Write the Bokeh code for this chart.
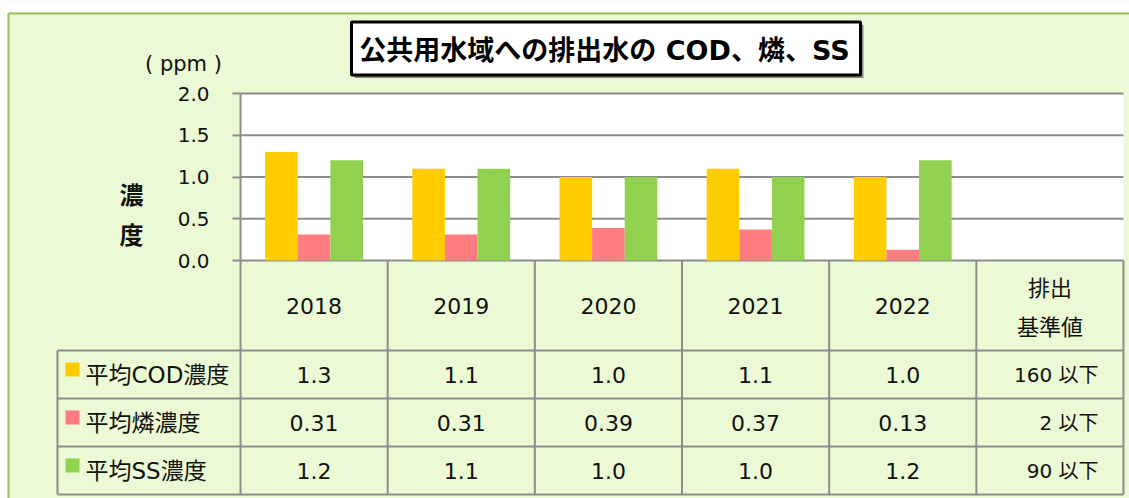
import numpy as np
from bokeh.plotting import figure
from bokeh.models import Range1d, FixedTicker, NumeralTickFormatter
from bokeh.core.properties import value
from bokeh.embed import file_html
from bokeh.resources import INLINE

# ---------------- data ----------------
years = ["2018", "2019", "2020", "2021", "2022"]
standard_header = ["排出", "基準値"]
series_labels = ["平均COD濃度", "平均燐濃度", "平均SS濃度"]
cod = [1.3, 1.1, 1.0, 1.1, 1.0]
phosphorus = [0.31, 0.31, 0.39, 0.37, 0.13]
ss = [1.2, 1.1, 1.0, 1.0, 1.2]
standards = ["160 以下", "2 以下", "90 以下"]
y_ticks = [0.0, 0.5, 1.0, 1.5, 2.0]
title_text = "公共用水域への排出水の COD、燐、SS"
unit_text = "( ppm )"
axis_title = ["濃", "度"]

series = [cod, phosphorus, ss]
decimals = [1, 2, 1]
colors = ["#FFCC00", "#FF7C80", "#92D050"]

# ---------------- layout constants ----------------
W, H = 1129, 498
X0, COLW = 240, (1123 - 240) / 6   # plot-area left and column width (px)
Y0, PPU = 260, (260 - 93) / 2      # zero line (px) and px per unit
BG = "#EBFAD4"
GRID = "#8C8C8C"
TXT = "#111111"
LATIN = value("DejaVu Sans, Noto Sans CJK JP")
CJK = value("Noto Sans CJK JP")

p = figure(width=W, height=H, output_backend="svg", toolbar_location=None, title=None,
           x_range=Range1d(-X0 / COLW, (W - X0) / COLW),
           y_range=Range1d((Y0 - H) / PPU, Y0 / PPU),
           x_axis_type=None,
           min_border_left=0, min_border_right=0, min_border_top=0, min_border_bottom=0,
           background_fill_color=BG, border_fill_color=BG, outline_line_color=None)
p.extra_x_ranges = {"px": Range1d(0, W)}
p.extra_y_ranges = {"px": Range1d(H, 0)}
p.grid.visible = False

# y axis pinned at the plot-area left edge
ax = p.yaxis[0]
ax.fixed_location = 0
ax.bounds = (min(y_ticks), max(y_ticks))
ax.ticker = FixedTicker(ticks=y_ticks)
ax.formatter = NumeralTickFormatter(format="0.0")
ax.axis_line_color = GRID
ax.axis_line_width = 2
ax.major_tick_line_color = GRID
ax.major_tick_line_width = 2
ax.major_tick_in = 0
ax.major_tick_out = 8
ax.minor_tick_line_color = None
ax.major_label_text_font_size = "20px"
ax.major_label_text_font = "DejaVu Sans"
ax.major_label_text_color = TXT
ax.major_label_standoff = 23

# outer white margins and green border
p.quad(left=[0, 0], right=[7, W], top=[0, 0], bottom=[H, 12], fill_color="white", line_color=None,
       x_range_name="px", y_range_name="px")
p.segment(x0=[8, 8], x1=[8, W], y0=[13, 13], y1=[H, 13], line_color="#9BBB59", line_width=2,
          x_range_name="px", y_range_name="px")

n = len(years)
xs = np.arange(n) + 0.5
ncol = n + 1

# plot area
p.quad(left=0, right=ncol, bottom=0, top=max(y_ticks), fill_color="white", line_color=None)
p.segment(x0=[0] * len(y_ticks), x1=[ncol] * len(y_ticks), y0=y_ticks, y1=y_ticks,
          line_color=GRID, line_width=2)

# bars
BW = 0.2216
for k, (vals, c) in enumerate(zip(series, colors)):
    p.vbar(x=xs + (k - 1) * BW, top=vals, bottom=0, width=BW, fill_color=c, line_color=None)

# ---------------- table ----------------
TL = 57
row_edges = [350, 398, 446, 494]
row_centers = [(a + b) / 2 for a, b in zip(row_edges[:-1], row_edges[1:])]

p.segment(x0=[TL] * len(row_edges), x1=[1123] * len(row_edges), y0=row_edges, y1=row_edges,
          line_color=GRID, line_width=2, x_range_name="px", y_range_name="px")
bounds = list(range(ncol + 1))
p.segment(x0=bounds, x1=bounds, y0=[Y0] * len(bounds), y1=[row_edges[-1]] * len(bounds),
          line_color=GRID, line_width=2, y_range_name="px")
p.segment(x0=[TL], x1=[TL], y0=[row_edges[0]], y1=[row_edges[-1]],
          line_color=GRID, line_width=2, x_range_name="px", y_range_name="px")

# header
p.text(x=xs, y=[305] * n, text=years, text_align="center", text_baseline="middle",
       text_font=LATIN, text_font_size="22px", text_color=TXT, y_range_name="px")
p.text(x=[n + 0.5] * 2, y=[285, 324], text=standard_header, text_align="center", text_baseline="middle",
       text_font=CJK, text_font_size="22px", text_color=TXT, y_range_name="px")

# values
for r, (vals, d) in enumerate(zip(series, decimals)):
    p.text(x=xs, y=[row_centers[r]] * n, text=[f"{v:.{d}f}" for v in vals],
           text_align="center", text_baseline="middle", text_font=LATIN, text_font_size="22px",
           text_color=TXT, y_range_name="px")

p.text(x=[1098] * 3, y=row_centers, text=standards, text_align="right", text_baseline="middle",
       text_font=LATIN, text_font_size="20px", text_color=TXT, x_range_name="px", y_range_name="px")

# legend keys + row labels
p.rect(x=[72] * 3, y=[c - 5 for c in row_centers], width=14, height=14, fill_color=colors,
       line_color=None, x_range_name="px", y_range_name="px")
p.text(x=[85] * 3, y=row_centers, text=series_labels, text_align="left", text_baseline="middle",
       text_font=LATIN, text_font_size="23px", text_color=TXT, x_range_name="px", y_range_name="px")

# unit and axis title
p.text(x=[183], y=[63], text=[unit_text], text_align="center", text_baseline="middle",
       text_font=LATIN, text_font_size="21px", text_color=TXT, x_range_name="px", y_range_name="px")
p.text(x=[131, 131], y=[193, 233], text=axis_title, text_align="center", text_baseline="middle",
       text_font=CJK, text_font_size="24px", text_font_style="bold", text_color=TXT,
       x_range_name="px", y_range_name="px")

# title box
p.rect(x=[608.5], y=[51], width=509, height=53, fill_color="#8A8A8A", line_color=None,
       x_range_name="px", y_range_name="px")
p.rect(x=[605.5], y=[48], width=509, height=53, fill_color="white", line_color="black", line_width=3,
       x_range_name="px", y_range_name="px")
p.text(x=[604], y=[50], text=[title_text], text_align="center", text_baseline="middle",
       text_font=LATIN, text_font_size="27px", text_font_style="bold", text_color="black",
       x_range_name="px", y_range_name="px")

open("out.html", "w").write(file_html(p, INLINE))
